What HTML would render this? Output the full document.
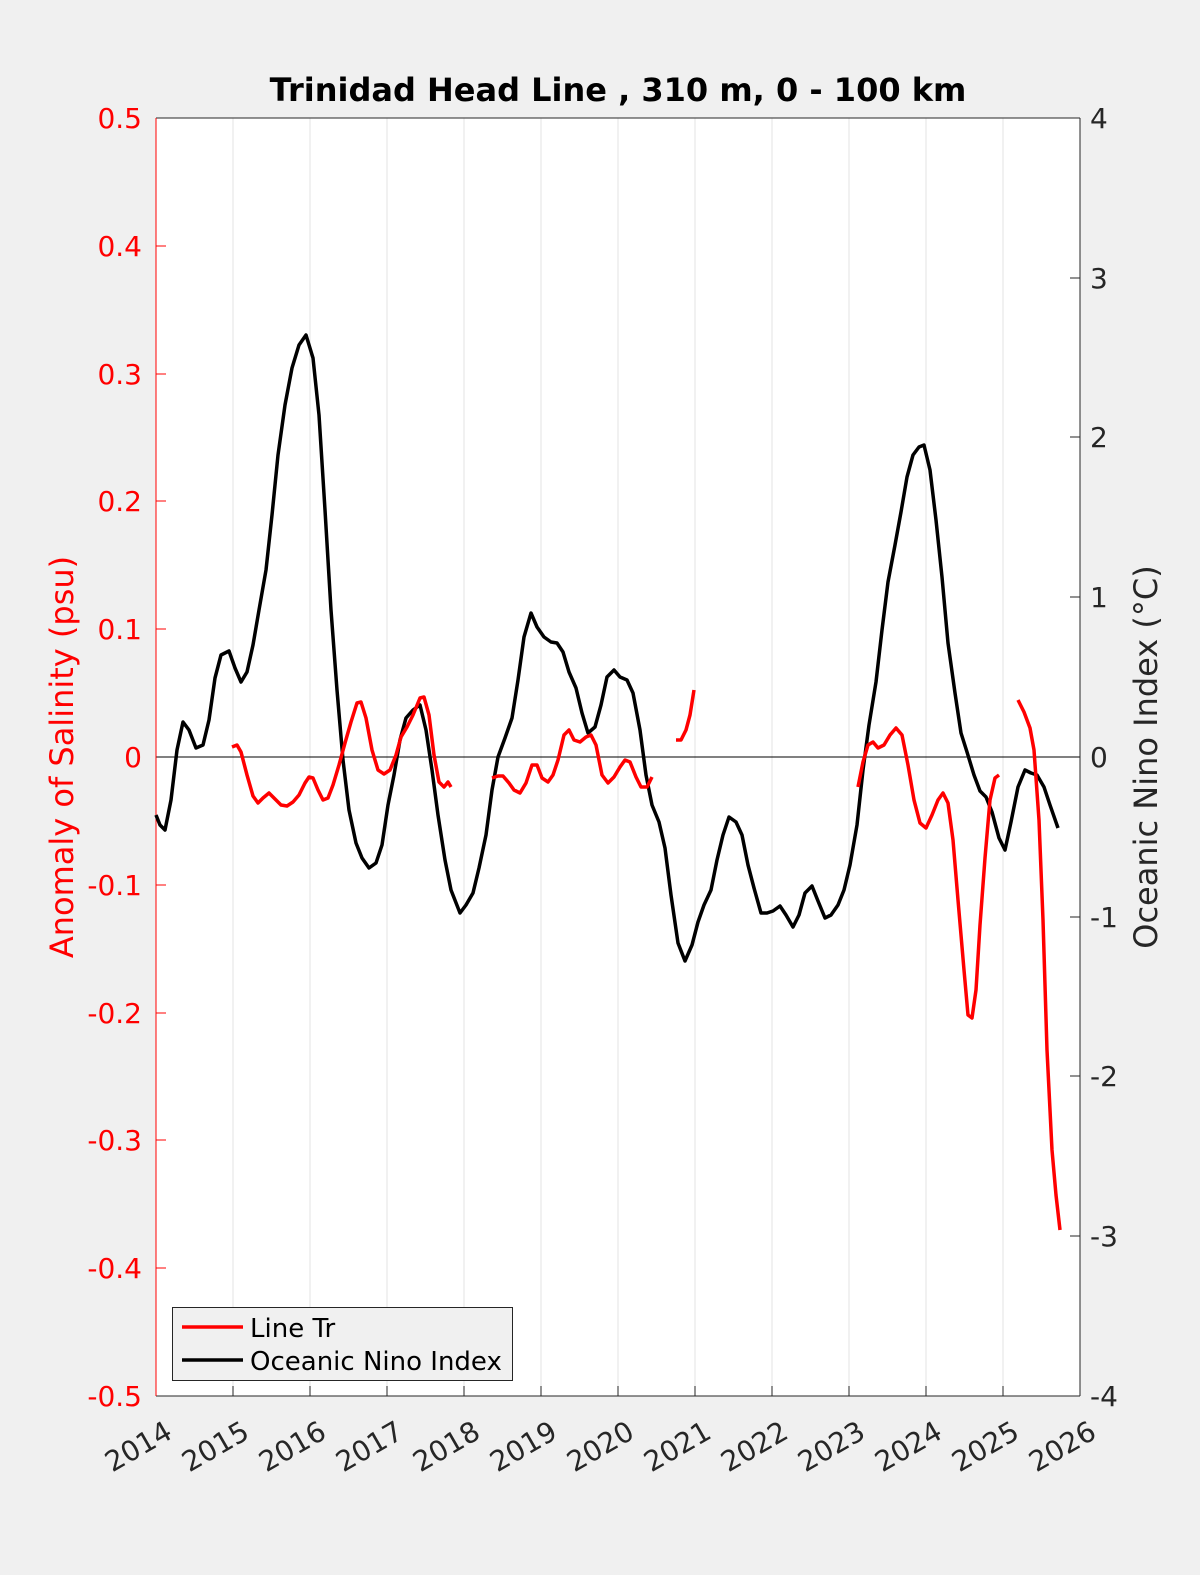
<!DOCTYPE html>
<html><head><meta charset="utf-8"><style>body{margin:0;background:#f0f0f0}svg{display:block}</style></head>
<body>
<svg width="1200" height="1575" viewBox="0 0 1200 1575" xmlns="http://www.w3.org/2000/svg" font-family="DejaVu Sans, Liberation Sans, sans-serif">
<rect width="1200" height="1575" fill="#f0f0f0"/>
<rect x="156" y="118" width="924" height="1278" fill="#fff"/>
<g stroke="#e3e3e3" stroke-width="1">
<line x1="233" y1="118" x2="233" y2="1396"/><line x1="310" y1="118" x2="310" y2="1396"/><line x1="387" y1="118" x2="387" y2="1396"/><line x1="464" y1="118" x2="464" y2="1396"/><line x1="541" y1="118" x2="541" y2="1396"/><line x1="618" y1="118" x2="618" y2="1396"/><line x1="695" y1="118" x2="695" y2="1396"/><line x1="772" y1="118" x2="772" y2="1396"/><line x1="849" y1="118" x2="849" y2="1396"/><line x1="926" y1="118" x2="926" y2="1396"/><line x1="1003" y1="118" x2="1003" y2="1396"/>
</g>
<line x1="156" y1="757" x2="1080" y2="757" stroke="#000" stroke-width="1"/>
<line x1="156" y1="118" x2="1080" y2="118" stroke="#262626"/>
<line x1="156" y1="1396" x2="1080" y2="1396" stroke="#262626"/>
<line x1="156" y1="118" x2="156" y2="1396" stroke="#f00"/>
<line x1="1080" y1="118" x2="1080" y2="1396" stroke="#262626"/>
<g stroke="#262626">
<line x1="233" y1="1396" x2="233" y2="1386"/><line x1="310" y1="1396" x2="310" y2="1386"/><line x1="387" y1="1396" x2="387" y2="1386"/><line x1="464" y1="1396" x2="464" y2="1386"/><line x1="541" y1="1396" x2="541" y2="1386"/><line x1="618" y1="1396" x2="618" y2="1386"/><line x1="695" y1="1396" x2="695" y2="1386"/><line x1="772" y1="1396" x2="772" y2="1386"/><line x1="849" y1="1396" x2="849" y2="1386"/><line x1="926" y1="1396" x2="926" y2="1386"/><line x1="1003" y1="1396" x2="1003" y2="1386"/>
<line x1="1080" y1="278" x2="1070" y2="278"/><line x1="1080" y1="437" x2="1070" y2="437"/><line x1="1080" y1="597" x2="1070" y2="597"/><line x1="1080" y1="917" x2="1070" y2="917"/><line x1="1080" y1="1076" x2="1070" y2="1076"/><line x1="1080" y1="1236" x2="1070" y2="1236"/>
</g>
<g stroke="#f00">
<line x1="156" y1="246" x2="166" y2="246"/><line x1="156" y1="374" x2="166" y2="374"/><line x1="156" y1="501" x2="166" y2="501"/><line x1="156" y1="629" x2="166" y2="629"/><line x1="156" y1="885" x2="166" y2="885"/><line x1="156" y1="1013" x2="166" y2="1013"/><line x1="156" y1="1140" x2="166" y2="1140"/><line x1="156" y1="1268" x2="166" y2="1268"/>
</g>
<g fill="#f00" font-size="28" text-anchor="end">
<text x="142" y="128">0.5</text><text x="142" y="256">0.4</text><text x="142" y="384">0.3</text><text x="142" y="511">0.2</text><text x="142" y="639">0.1</text><text x="142" y="767">0</text><text x="142" y="895">-0.1</text><text x="142" y="1023">-0.2</text><text x="142" y="1150">-0.3</text><text x="142" y="1278">-0.4</text><text x="142" y="1406">-0.5</text>
</g>
<g fill="#262626" font-size="28">
<text x="1090" y="128">4</text><text x="1090" y="288">3</text><text x="1090" y="447">2</text><text x="1090" y="607">1</text><text x="1090" y="767">0</text><text x="1090" y="927">-1</text><text x="1090" y="1086">-2</text><text x="1090" y="1246">-3</text><text x="1090" y="1406">-4</text>
</g>
<g fill="#262626" font-size="28" text-anchor="end">
<text transform="translate(174,1437) rotate(-30)">2014</text><text transform="translate(251,1437) rotate(-30)">2015</text><text transform="translate(328,1437) rotate(-30)">2016</text><text transform="translate(405,1437) rotate(-30)">2017</text><text transform="translate(482,1437) rotate(-30)">2018</text><text transform="translate(559,1437) rotate(-30)">2019</text><text transform="translate(636,1437) rotate(-30)">2020</text><text transform="translate(713,1437) rotate(-30)">2021</text><text transform="translate(790,1437) rotate(-30)">2022</text><text transform="translate(867,1437) rotate(-30)">2023</text><text transform="translate(944,1437) rotate(-30)">2024</text><text transform="translate(1021,1437) rotate(-30)">2025</text><text transform="translate(1098,1437) rotate(-30)">2026</text>
</g>
<text x="618" y="101" font-size="32" font-weight="bold" text-anchor="middle" fill="#000">Trinidad Head Line , 310 m, 0 - 100 km</text>
<text transform="translate(73,757) rotate(-90)" font-size="32" fill="#f00" text-anchor="middle">Anomaly of Salinity (psu)</text>
<text transform="translate(1157,757) rotate(-90)" font-size="32" fill="#262626" text-anchor="middle">Oceanic Nino Index (°C)</text>
<polyline fill="none" stroke="#000" stroke-width="3.5" stroke-linejoin="round" points="156,815 160,825 165,830 171,800 177,750 183,722 189,730 196,748 203,745 209,720 215,678 221,655 229,651 235,668 241,682 247,672 253,645 259,610 266,570 272,515 278,455 285,405 292,368 299,345 306,335 313,358 319,415 325,510 331,610 337,690 343,760 349,810 356,843 362,858 369,868 376,863 382,845 388,805 394,775 400,740 406,718 413,710 420,705 426,730 432,770 438,815 445,860 451,890 460,913 466,905 473,893 479,868 486,835 492,790 498,757 505,738 512,718 518,680 524,637 531,613 537,627 544,637 551,642 557,643 563,652 569,672 576,688 582,713 588,733 595,727 601,705 607,677 614,670 620,677 627,680 633,693 640,730 646,775 652,805 659,822 665,848 671,895 678,943 685,961 692,945 698,922 704,905 711,890 717,860 723,835 729,817 736,822 742,835 748,865 754,888 761,913 767,913 773,911 780,906 786,915 793,927 799,915 805,893 812,886 818,901 825,918 831,915 838,905 844,890 850,865 857,825 863,770 869,725 876,682 882,630 888,582 895,545 901,512 907,477 913,455 919,447 924,445 930,470 936,520 942,577 948,643 955,693 961,733 967,752 974,775 980,791 986,797 992,812 999,838 1005,850 1011,822 1018,787 1025,770 1031,773 1037,775 1044,787 1050,805 1058,828"/>
<g fill="none" stroke="#f00" stroke-width="3.5" stroke-linejoin="round">
<polyline points="232,747 237,745 241,752 247,775 253,796 258,803 263,798 269,793 275,799 281,805 287,806 293,802 299,795 305,783 309,777 313,778 318,790 323,800 328,798 333,785 339,765 345,743 351,722 357,703 361,702 366,718 372,750 378,770 384,774 390,770 396,755 401,737 407,727 413,715 420,698 424,697 429,715 434,755 439,782 444,787 448,782 451,787"/>
<polyline points="492,778 498,776 503,776 509,783 514,790 520,793 526,783 532,765 537,765 542,778 548,782 553,775 558,760 564,735 569,730 574,740 580,742 586,737 591,735 596,745 602,775 608,783 614,777 620,767 625,760 630,762 636,777 641,787 647,787 652,777"/>
<polyline points="676,740 681,740 686,730 690,715 694,690"/>
<polyline points="858,787 863,762 868,745 873,742 878,748 884,745 890,735 896,728 902,735 908,765 914,800 920,823 926,828 932,815 938,800 943,793 948,803 953,840 958,900 964,970 968,1015 972,1018 976,990 980,925 985,858 990,800 995,778 999,775"/>
<polyline points="1018,700 1024,712 1030,728 1034,750 1039,820 1043,920 1047,1050 1052,1150 1056,1195 1060,1230"/>
</g>
<rect x="172.5" y="1307.5" width="340" height="73" fill="#f0f0f0" stroke="#262626"/>
<line x1="182" y1="1327" x2="243" y2="1327" stroke="#f00" stroke-width="3.5"/>
<line x1="182" y1="1360" x2="243" y2="1360" stroke="#000" stroke-width="3.5"/>
<g font-size="26" fill="#000"><text x="250" y="1337">Line Tr</text><text x="250" y="1370">Oceanic Nino Index</text></g>
</svg>
</body></html>
